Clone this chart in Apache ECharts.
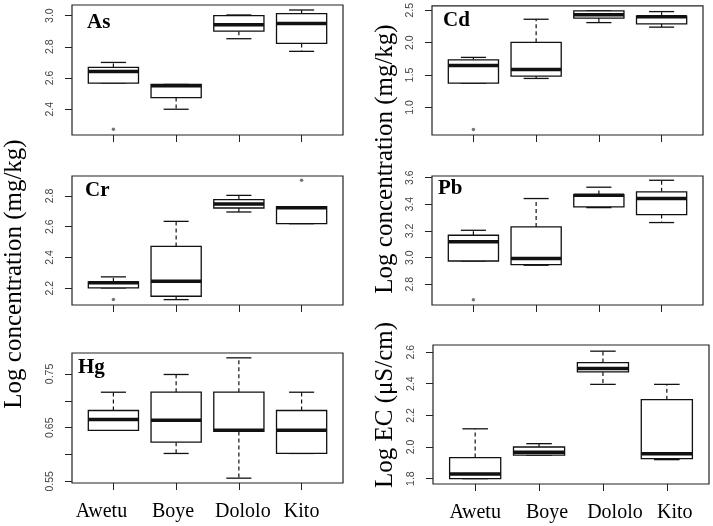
<!DOCTYPE html>
<html>
<head>
<meta charset="utf-8">
<script src="https://cdn.jsdelivr.net/npm/echarts@6/dist/echarts.min.js"></script>
<style>
html, body { margin: 0; padding: 0; background: #fff; }
#chart { width: 713px; height: 526px; }
</style>
</head>
<body>
<div id="chart"></div>
<script>
const sites = ['Awetu', 'Boye', 'Dololo', 'Kito'];

// [lower whisker, Q1, median, Q3, upper whisker] for each site (log values)
const asBox = [[2.567, 2.567, 2.642, 2.668, 2.700], [2.400, 2.475, 2.550, 2.559, 2.559], [2.852, 2.900, 2.942, 3.000, 3.004], [2.771, 2.822, 2.949, 3.013, 3.036]];
const cdBox = [[1.376, 1.376, 1.648, 1.735, 1.773], [1.448, 1.484, 1.586, 2.005, 2.362], [2.310, 2.380, 2.430, 2.490, 2.490], [2.240, 2.290, 2.400, 2.410, 2.480]];
const crBox = [[2.202, 2.202, 2.235, 2.241, 2.274], [2.126, 2.148, 2.245, 2.472, 2.635], [2.696, 2.722, 2.748, 2.776, 2.804], [2.620, 2.620, 2.724, 2.730, 2.730]];
const pbBox = [[2.975, 2.975, 3.120, 3.168, 3.205], [2.943, 2.948, 2.993, 3.230, 3.443], [3.375, 3.380, 3.468, 3.473, 3.528], [3.263, 3.323, 3.443, 3.493, 3.580]];
const hgBox = [[0.645, 0.645, 0.665, 0.682, 0.716], [0.602, 0.623, 0.664, 0.716, 0.749], [0.556, 0.643, 0.645, 0.716, 0.780], [0.602, 0.602, 0.645, 0.682, 0.716]];
const ecBox = [[1.800, 1.800, 1.830, 1.933, 2.115], [1.949, 1.949, 1.966, 2.000, 2.021], [2.396, 2.475, 2.496, 2.534, 2.606], [1.920, 1.926, 1.958, 2.299, 2.396]];

// outliers per site (null = none)
const asOut = [2.272, null, null, null];
const cdOut = [0.660, null, null, null];
const crOut = [2.126, null, null, 2.903];
const pbOut = [2.685, null, null, null];
const hgOut = [null, null, null, null];
const ecOut = [null, null, null, null];

// tick positions and the ones that carry a label
const asTicks = [2.4, 2.6, 2.8, 3.0];
const cdTicks = [1.0, 1.5, 2.0, 2.5];
const crTicks = [2.2, 2.4, 2.6, 2.8];
const pbTicks = [2.8, 3.0, 3.2, 3.4, 3.6];
const hgTicks = [0.55, 0.60, 0.65, 0.70, 0.75];
const hgLabels = [0.55, 0.65, 0.75];
const ecTicks = [1.8, 2.0, 2.2, 2.4, 2.6];

const panels = [
  { name: 'As', box: asBox, out: asOut, ticks: asTicks, labels: asTicks, dec: 1, min: 2.235, max: 3.068, rect: [72, 5, 271, 130], tag: [87, 23], shift: null },
  { name: 'Cd', box: cdBox, out: cdOut, ticks: cdTicks, labels: cdTicks, dec: 1, min: 0.575, max: 2.567, rect: [432, 5, 271, 130], tag: [443, 21], shift: null },
  { name: 'Cr', box: crBox, out: crOut, ticks: crTicks, labels: crTicks, dec: 1, min: 2.091, max: 2.93, rect: [72, 176, 271, 129], tag: [85, 191], shift: null },
  { name: 'Pb', box: pbBox, out: pbOut, ticks: pbTicks, labels: pbTicks, dec: 1, min: 2.645, max: 3.612, rect: [432, 176, 271, 129], tag: [438, 189], shift: null },
  { name: 'Hg', box: hgBox, out: hgOut, ticks: hgTicks, labels: hgLabels, dec: 2, min: 0.547, max: 0.789, rect: [72, 353, 271, 130], tag: [78, 368], shift: [-12, -3, 4, 0] },
  { name: '', box: ecBox, out: ecOut, ticks: ecTicks, labels: ecTicks, dec: 1, min: 1.766, max: 2.645, rect: [433, 345, 276, 139], tag: null, shift: [0, 8, 12, 8] }
];

const serif = '"Liberation Serif", "Times New Roman", serif';
const sans = '"Liberation Sans", Arial, sans-serif';

function renderBox(params, api) {
  const x = api.value(0);
  const p = [1, 2, 3, 4, 5].map(function (i) { return api.coord([x, api.value(i)]); });
  const cx = p[0][0];
  const half = api.size([0.8, 0])[0] / 2;
  const cap = half / 2;
  const solid = { stroke: '#111', lineWidth: 1.3 };
  const dashed = { stroke: '#111', lineWidth: 1.2, lineDash: [4, 3] };
  function seg(x1, y1, x2, y2, style) {
    return { type: 'line', shape: { x1: x1, y1: y1, x2: x2, y2: y2 }, style: style };
  }
  return {
    type: 'group',
    children: [
      seg(cx, p[3][1], cx, p[4][1], dashed),
      seg(cx, p[1][1], cx, p[0][1], dashed),
      seg(cx - cap, p[4][1], cx + cap, p[4][1], solid),
      seg(cx - cap, p[0][1], cx + cap, p[0][1], solid),
      { type: 'rect', shape: { x: cx - half, y: p[3][1], width: half * 2, height: p[1][1] - p[3][1] },
        style: { fill: '#fff', stroke: '#111', lineWidth: 1.3 } },
      seg(cx - half, p[2][1], cx + half, p[2][1], { stroke: '#111', lineWidth: 3.5 })
    ]
  };
}

const grid = [], xAxis = [], yAxis = [], series = [], graphic = [];

panels.forEach(function (pn, k) {
  // per-label nudges (the site names are not exactly centred under the ticks)
  const rich = {};
  if (pn.shift) {
    pn.shift.forEach(function (d, i) {
      rich['s' + i] = {
        fontFamily: serif, fontSize: 20, color: '#000',
        padding: d >= 0 ? [0, 0, 0, 2 * d] : [0, -2 * d, 0, 0]
      };
    });
  }
  grid.push({ left: pn.rect[0], top: pn.rect[1], width: pn.rect[2], height: pn.rect[3],
    show: true, borderColor: '#222', borderWidth: 1.2, backgroundColor: 'transparent' });
  xAxis.push({
    type: 'value', gridIndex: k, min: 0.34, max: 4.66,
    axisLine: { show: false }, splitLine: { show: false },
    axisTick: { show: true, customValues: [1, 2, 3, 4], length: 7, lineStyle: { color: '#222' } },
    axisLabel: {
      show: !!pn.shift, customValues: [1, 2, 3, 4], margin: 19,
      formatter: function (v) {
        const i = Math.round(v) - 1;
        return '{s' + i + '|' + sites[i] + '}';
      },
      rich: rich,
      fontFamily: serif, fontSize: 20, color: '#000'
    }
  });
  yAxis.push({
    type: 'value', gridIndex: k, min: pn.min, max: pn.max,
    axisLine: { show: false }, splitLine: { show: false },
    axisTick: { show: true, customValues: pn.ticks, length: 7, lineStyle: { color: '#222' } },
    axisLabel: {
      customValues: pn.labels, rotate: 90, margin: 16,
      formatter: function (v) { return v.toFixed(pn.dec); },
      fontFamily: sans, fontSize: 10.5, color: '#444'
    }
  });
  series.push({
    type: 'custom', xAxisIndex: k, yAxisIndex: k,
    renderItem: renderBox,
    encode: { x: 0, y: [1, 2, 3, 4, 5] },
    data: pn.box.map(function (b, i) { return [i + 1].concat(b); })
  });
  const outs = [];
  pn.out.forEach(function (v, i) { if (v !== null) outs.push([i + 1, v]); });
  series.push({
    type: 'scatter', xAxisIndex: k, yAxisIndex: k,
    symbol: 'circle', symbolSize: 3.5, itemStyle: { color: '#555' },
    data: outs
  });
  if (pn.tag) {
    graphic.push({ type: 'text', x: pn.tag[0], y: pn.tag[1],
      style: { text: pn.name, font: 'bold 21px ' + serif, fill: '#000', verticalAlign: 'middle' } });
  }
});

graphic.push({ type: 'text', x: 14, y: 274, rotation: Math.PI / 2,
  style: { text: 'Log concentration (mg/kg)', font: '25px ' + serif, fill: '#000', align: 'center', verticalAlign: 'middle' } });
graphic.push({ type: 'text', x: 385, y: 159, rotation: Math.PI / 2,
  style: { text: 'Log concentration (mg/kg)', font: '25px ' + serif, fill: '#000', align: 'center', verticalAlign: 'middle' } });
graphic.push({ type: 'text', x: 385, y: 405, rotation: Math.PI / 2,
  style: { text: 'Log EC (\u03bcS/cm)', font: '25px ' + serif, fill: '#000', align: 'center', verticalAlign: 'middle' } });

const chart = echarts.init(document.getElementById('chart'));
chart.setOption({
  animation: false,
  backgroundColor: '#fff',
  grid: grid,
  xAxis: xAxis,
  yAxis: yAxis,
  series: series,
  graphic: graphic
});
</script>
</body>
</html>
